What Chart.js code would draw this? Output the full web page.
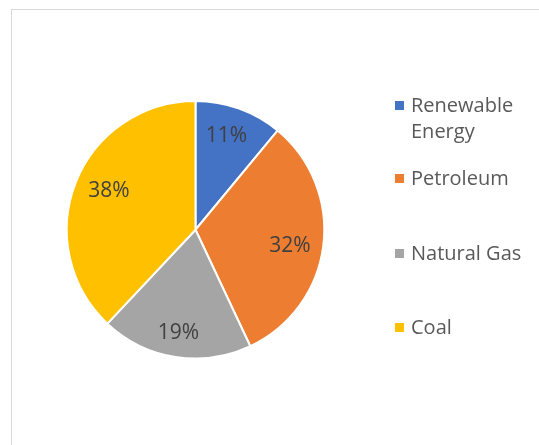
<!DOCTYPE html>
<html>
<head>
<meta charset="utf-8">
<script src="https://cdn.jsdelivr.net/npm/chart.js@4"></script>
<style>
  html, body { margin: 0; padding: 0; background: #ffffff; }
  #wrap { position: relative; width: 539px; height: 445px; overflow: hidden; }
  #frame { position: absolute; left: 11px; top: 9px; width: 600px; height: 500px; border: 1px solid #D9D9D9; box-sizing: border-box; }
  canvas { position: absolute; left: 0; top: 0; }
</style>
</head>
<body>
<div id="wrap">
  <div id="frame"></div>
  <canvas id="c" width="539" height="445"></canvas>
</div>
<script>
// ---- data ----
const categories = ["Renewable Energy", "Petroleum", "Natural Gas", "Coal"];
const shares = [11, 32, 19, 38];
const sliceColors = ["#4472C4", "#ED7D31", "#A5A5A5", "#FFC000"];

// ---- layout constants (not data) ----
const labelRadiusFactor = [0.765, 0.743, 0.815, 0.736];
const labelAngleNudgeDeg = [-1.5, 2.3, 0.3, 2.4];
const legendX = 395, legendTextX = 411, legendBox = 9;
const legendRowY = [105, 178.5, 253, 327.5];
const legendLineH = 26;
const legendMaxW = 118;

const dataLabels = {
  id: 'dataLabels',
  afterDatasetsDraw(chart) {
    const ctx = chart.ctx;
    const meta = chart.getDatasetMeta(0);
    const total = shares.reduce((a, b) => a + b, 0);
    ctx.save();
    ctx.font = '21px "Open Sans"';
    ctx.fillStyle = '#404040';
    ctx.textAlign = 'center';
    ctx.textBaseline = 'middle';
    meta.data.forEach((arc, i) => {
      const p = arc.getProps(['x', 'y', 'startAngle', 'endAngle', 'outerRadius'], true);
      const mid = (p.startAngle + p.endAngle) / 2 + labelAngleNudgeDeg[i] * Math.PI / 180;
      const r = p.outerRadius * labelRadiusFactor[i];
      const x = p.x + Math.cos(mid) * r;
      const y = p.y + Math.sin(mid) * r;
      ctx.fillText(Math.round(shares[i] / total * 100) + '%', x, y);
    });
    ctx.restore();
  }
};

const sideLegend = {
  id: 'sideLegend',
  afterDraw(chart) {
    const ctx = chart.ctx;
    ctx.save();
    ctx.font = '20px "Open Sans"';
    ctx.textBaseline = 'middle';
    ctx.textAlign = 'left';
    categories.forEach((name, i) => {
      const y0 = legendRowY[i];
      const words = name.split(' ');
      const lines = [];
      let cur = '';
      words.forEach(w => {
        const t = cur ? cur + ' ' + w : w;
        if (ctx.measureText(t).width > legendMaxW && cur) { lines.push(cur); cur = w; }
        else cur = t;
      });
      if (cur) lines.push(cur);
      ctx.fillStyle = sliceColors[i];
      ctx.fillRect(legendX, Math.round(y0 - legendBox / 2), legendBox, legendBox);
      ctx.fillStyle = '#595959';
      lines.forEach((ln, j) => ctx.fillText(ln, legendTextX, y0 + 1 + j * legendLineH));
    });
    ctx.restore();
  }
};

new Chart(document.getElementById('c'), {
  type: 'pie',
  data: {
    labels: categories,
    datasets: [{
      data: shares,
      backgroundColor: sliceColors,
      borderColor: '#ffffff',
      borderWidth: 2,
      hoverOffset: 0
    }]
  },
  options: {
    responsive: false,
    animation: false,
    layout: { padding: { left: 65.5, right: 213.5, top: 100, bottom: 85.5 } },
    plugins: {
      legend: { display: false },
      tooltip: { enabled: false }
    }
  },
  plugins: [dataLabels, sideLegend]
});
</script>
</body>
</html>
